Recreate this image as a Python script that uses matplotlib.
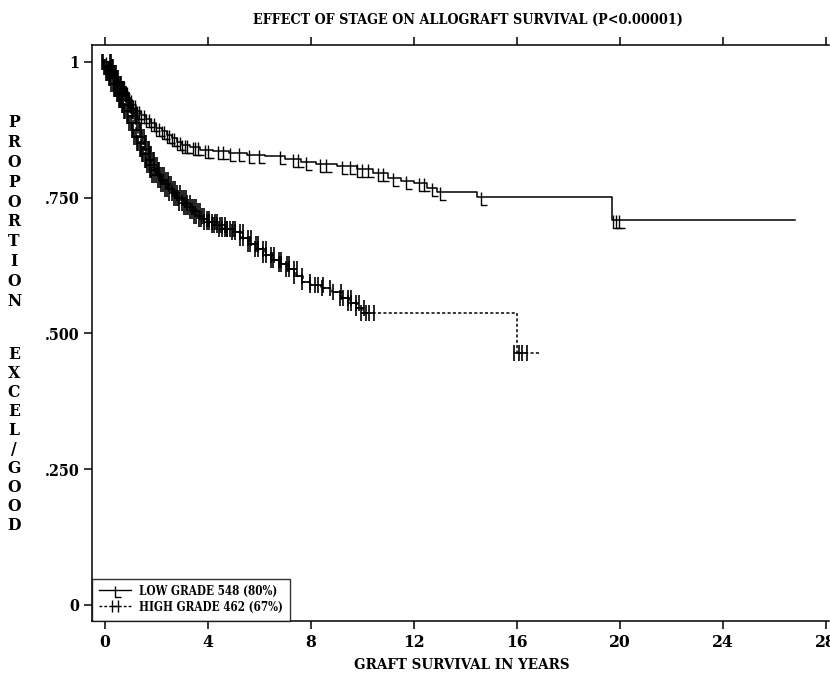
import numpy as np
import matplotlib
matplotlib.use("Agg")
import matplotlib.pyplot as plt
from matplotlib.path import Path
from matplotlib.lines import Line2D
from matplotlib import font_manager as fm

# Kaplan-Meier steps: (time in years, survival proportion after the step)
low_times = [0.0, 0.1, 0.2, 0.3, 0.45, 0.6, 0.75, 0.9, 1.05, 1.2, 1.4, 1.6, 1.8, 2.0,
             2.2, 2.4, 2.6, 2.8, 3.0, 3.3, 3.7, 4.2, 4.8, 5.5, 6.2, 7.0, 7.6, 8.2,
             9.0, 9.8, 10.4, 11.0, 11.5, 12.0, 12.5, 12.9, 14.45, 19.7]
low_surv = [1.0, 0.99, 0.985, 0.975, 0.965, 0.955, 0.945, 0.93, 0.92, 0.91, 0.902,
            0.895, 0.887, 0.879, 0.872, 0.866, 0.86, 0.853, 0.847, 0.843, 0.838,
            0.836, 0.833, 0.829, 0.826, 0.822, 0.816, 0.812, 0.808, 0.802, 0.795,
            0.787, 0.781, 0.777, 0.768, 0.760, 0.751, 0.709]
low_end = 26.8
low_censored = [0.05, 0.1, 0.15, 0.2, 0.25, 0.3, 0.35, 0.42, 0.5, 0.57, 0.65, 0.72,
                0.8, 0.87, 0.95, 1.02, 1.1, 1.17, 1.25, 1.32, 1.4, 1.5, 1.6, 1.7,
                1.8, 1.9, 2.0, 2.1, 2.2, 2.3, 2.4, 2.5, 2.6, 2.7, 2.8, 2.9, 3.0,
                3.1, 3.2, 3.4, 3.5, 3.6, 3.9, 4.0, 4.4, 4.6, 4.85, 5.2, 5.6, 6.0,
                6.8, 7.3, 7.5, 7.8, 8.35, 8.6, 9.2, 9.5, 9.8, 10.0, 10.2, 10.6,
                10.8, 11.2, 11.7, 12.2, 12.4, 12.7, 13.0, 14.6, 19.75, 19.85, 19.95]

high_times = [0.0, 0.1, 0.2, 0.3, 0.4, 0.5, 0.6, 0.7, 0.8, 0.9, 1.0, 1.1, 1.2, 1.3,
              1.4, 1.5, 1.6, 1.7, 1.8, 1.9, 2.0, 2.15, 2.3, 2.45, 2.6, 2.8, 3.0,
              3.2, 3.4, 3.6, 3.8, 4.0, 4.3, 4.6, 5.0, 5.3, 5.6, 5.9, 6.2, 6.5, 6.8,
              7.1, 7.4, 7.7, 8.0, 8.4, 8.8, 9.2, 9.5, 9.8, 10.0, 16.0]
high_surv = [1.0, 0.99, 0.98, 0.97, 0.96, 0.95, 0.94, 0.93, 0.92, 0.91, 0.90, 0.888,
             0.875, 0.862, 0.85, 0.84, 0.83, 0.82, 0.81, 0.80, 0.792, 0.783, 0.775,
             0.766, 0.758, 0.75, 0.741, 0.733, 0.725, 0.717, 0.71, 0.705, 0.70,
             0.693, 0.686, 0.676, 0.665, 0.655, 0.645, 0.635, 0.627, 0.618, 0.606,
             0.595, 0.589, 0.584, 0.577, 0.566, 0.556, 0.546, 0.538, 0.464]
high_end = 16.9
high_censored = [0.05, 0.09, 0.12, 0.16, 0.2, 0.24, 0.28, 0.32, 0.35, 0.4, 0.45, 0.5,
                 0.55, 0.59, 0.62, 0.66, 0.7, 0.74, 0.78, 0.82, 0.85, 0.9, 0.95,
                 1.0, 1.05, 1.1, 1.15, 1.2, 1.25, 1.3, 1.35, 1.4, 1.45, 1.5, 1.55,
                 1.6, 1.65, 1.7, 1.75, 1.8, 1.85, 1.9, 1.95, 2.0, 2.05, 2.12, 2.2,
                 2.28, 2.35, 2.42, 2.5, 2.58, 2.65, 2.75, 2.82, 2.9, 2.98, 3.05,
                 3.15, 3.22, 3.3, 3.38, 3.45, 3.55, 3.62, 3.7, 3.8, 3.9, 4.0, 4.1,
                 4.2, 4.3, 4.4, 4.5, 4.6, 4.7, 4.8, 4.9, 5.1, 5.2, 5.4, 5.5, 5.7,
                 5.8, 6.0, 6.1, 6.3, 6.4, 6.6, 6.7, 6.9, 7.0, 7.2, 7.3, 7.5, 7.8,
                 8.1, 8.3, 8.6, 9.0, 9.3, 9.4, 9.6, 9.7, 9.9, 10.1, 10.3, 16.05,
                 16.25]

low_label = "LOW GRADE 548 (80%)"
high_label = "HIGH GRADE 462 (67%)"
title = "EFFECT OF STAGE ON ALLOGRAFT SURVIVAL (P<0.00001)"
xlabel = "GRAFT SURVIVAL IN YEARS"
ylabel_top = "PROPORTION"
ylabel_bottom = "EXCEL/GOOD"
xticks = [0, 4, 8, 12, 16, 20, 24, 28]
yticks = [0, 0.25, 0.5, 0.75, 1.0]
ytick_labels = ["0", ".250", ".500", ".750", "1"]


def condensed_bold_serif():
    for f in fm.fontManager.ttflist:
        if f.name == "DejaVu Serif" and f.stretch == "condensed" and f.weight in (700, "bold"):
            return f.fname
    return None


FONT_FILE = condensed_bold_serif()


def font(size):
    if FONT_FILE:
        return fm.FontProperties(fname=FONT_FILE, size=size)
    return fm.FontProperties(family="DejaVu Serif", weight="bold", size=size)


# censoring symbols: an "L" hanging below the curve, and an "H" across it
L_MARK = Path([(0, 0.6), (0, -1.0), (0.8, -1.0)],
              [Path.MOVETO, Path.LINETO, Path.LINETO])
H_MARK = Path([(-0.5, 1), (-0.5, -1), (-0.5, 0), (0.5, 0), (0.5, 1), (0.5, -1)],
              [Path.MOVETO, Path.LINETO, Path.MOVETO, Path.LINETO, Path.MOVETO, Path.LINETO])


def step_value(times, surv, t):
    idx = np.searchsorted(np.asarray(times), t, side="right") - 1
    return np.asarray(surv)[idx]


fig = plt.figure(figsize=(8.3, 6.79), dpi=100)
ax = fig.add_axes([0.1108, 0.0854, 0.8880, 0.8483])

# low grade: solid step curve
lt = low_times + [low_end]
ls = low_surv + [low_surv[-1]]
ax.step(lt, ls, where="post", color="black", lw=1.1)
ax.plot(low_censored, step_value(low_times, low_surv, low_censored), linestyle="none",
        marker=L_MARK, markersize=11, markeredgewidth=1.0, markerfacecolor="none",
        markeredgecolor="black")

# high grade: dotted step curve
ht = high_times + [high_end]
hs = high_surv + [high_surv[-1]]
ax.step(ht, hs, where="post", color="black", lw=1.1, linestyle=(0, (2, 1.5)))
ax.plot(high_censored, step_value(high_times, high_surv, high_censored), linestyle="none",
        marker=H_MARK, markersize=11, markeredgewidth=1.2, markerfacecolor="none",
        markeredgecolor="black")

ax.set_xlim(-0.505, 28.12)
ax.set_ylim(-0.0295, 1.031)

ax.set_xticks(xticks)
ax.set_xticklabels([str(v) for v in xticks])
ax.set_yticks(yticks)
ax.set_yticklabels(ytick_labels)
for lab in ax.get_xticklabels():
    lab.set_fontproperties(font(12.5))
for lab in ax.get_yticklabels():
    lab.set_fontproperties(font(11.5))
ax.tick_params(axis="both", direction="out", length=6, width=1.1, color="black")
ax.tick_params(axis="x", top=True, labeltop=False, pad=3)
ax.tick_params(axis="y", pad=3)
for side in ("left", "bottom", "top"):
    ax.spines[side].set_linewidth(1.1)
ax.spines["right"].set_visible(False)

t_title = fig.text(468 / 830, 1 - 20 / 679, title, ha="center", va="center",
                   fontproperties=font(13))
t_xlab = fig.text(462 / 830, 1 - 665 / 679, xlabel, ha="center", va="center",
                  fontproperties=font(13))
fig.text(14 / 830, 1 - 212 / 679, "\n".join(ylabel_top), ha="center", va="center",
         fontproperties=font(12.5), linespacing=1.22)
fig.text(14 / 830, 1 - 440 / 679, "\n".join(ylabel_bottom), ha="center", va="center",
         fontproperties=font(12.5), linespacing=1.15)

handles = [
    Line2D([], [], color="black", lw=1.0, marker=L_MARK, markersize=10,
           markerfacecolor="none", markeredgewidth=1.0),
    Line2D([], [], color="black", lw=1.0, linestyle=(0, (2, 1.5)), marker=H_MARK,
           markersize=9, markerfacecolor="none", markeredgewidth=1.0),
]
leg = ax.legend(handles, [low_label, high_label], loc="lower left",
                bbox_to_anchor=(0.0, 0.0), borderaxespad=0, frameon=True,
                fancybox=False, edgecolor="black", handlelength=2.2,
                handletextpad=0.6, labelspacing=0.2, borderpad=0.45,
                prop=font(10.5))
leg.get_frame().set_linewidth(1.0)


def fit_width(text, target_px):
    renderer = fig.canvas.get_renderer()
    w = text.get_window_extent(renderer).width
    text.set_fontsize(text.get_fontsize() * target_px / w)


fit_width(t_title, 430)
fit_width(t_xlab, 215)
renderer = fig.canvas.get_renderer()
legend_w = leg.get_texts()[0].get_window_extent(renderer).width
for txt in leg.get_texts():
    txt.set_fontsize(txt.get_fontsize() * 138 / legend_w)

fig.savefig("out.png", dpi=100)
